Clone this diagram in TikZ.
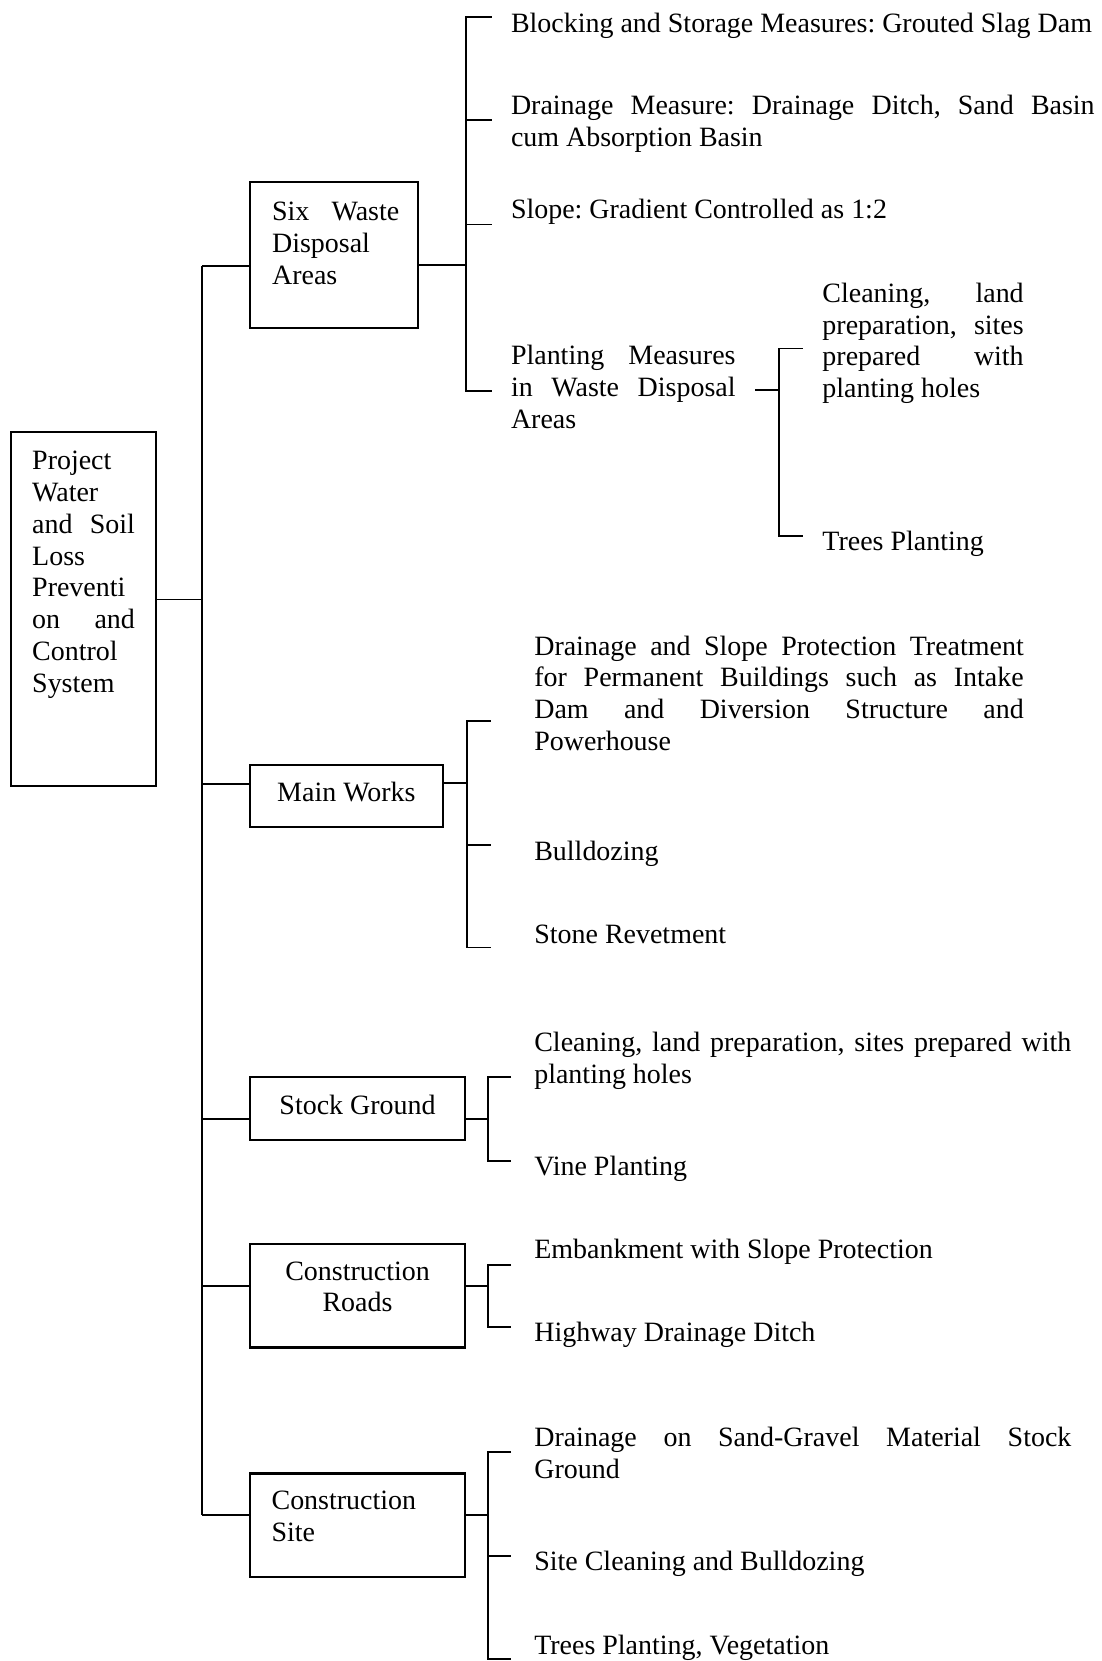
\documentclass[tikz,border=0pt]{standalone}
\usepackage{fontspec}
\setmainfont{Liberation Serif}
\usetikzlibrary{fit}
% one drawing unit = 0.5pt
\newlength\pxu
\setlength\pxu{0.5pt}
% a fully justified line of a given width
\newcommand\jline[2]{\makebox[#1\pxu][s]{#2}}
\frenchspacing

\begin{document}
\begin{tikzpicture}[x=0.5pt,y=-0.5pt,
  box/.style={draw, line width=1pt, inner sep=0pt},
  wire/.style={line width=0.85pt},
  txt/.style={inner sep=0pt, anchor=north west, align=left,
              font=\fontsize{13.2pt}{15pt}\selectfont},
  ctxt/.style={txt, anchor=north, align=center}]
\useasboundingbox (0,0) rectangle (1040,1568);

% ---------- boxes ----------
\node[box, fit={(10,408) (147,742)}]   (root)  {};
\node[box, fit={(236,172) (395,310)}]  (six)   {};
\node[box, fit={(236,722) (418,781)}]  (main)  {};
\node[box, fit={(236,1017) (439,1076)}] (stock) {};
\node[box, fit={(236,1174) (439,1272)}] (roads) {};
\node[box, fit={(236,1391) (439,1489)}] (site)  {};

% ---------- box labels ----------
\node[txt] (rootT) at (30,422) {\strut Project\\Water\\\jline{97}{and Soil}\\Loss\\Preventi\\\jline{97}{on and}\\Control\\System};
\node[txt] (sixT) at (256.5,187) {\strut\jline{120}{Six Waste}\\Disposal\\Areas};
\node[ctxt] (mainT) at (327,735) {\strut Main Works};
\node[ctxt] (stockT) at (337.5,1031) {\strut Stock Ground};
\node[ctxt] (roadsT) at (337.5,1187) {\strut Construction\\Roads};
\node[txt] (siteT) at (256,1404) {\strut Construction\\Site};

% ---------- leaf texts ----------
\node[txt] (blk) at (482,9) {\strut Blocking and Storage Measures: Grouted Slag Dam};
\node[txt] (drn) at (482,87) {\strut\jline{551}{Drainage Measure: Drainage Ditch, Sand Basin}\\cum Absorption Basin};
\node[txt] (slp) at (482,185) {\strut Slope: Gradient Controlled as 1:2};
\node[txt] (plt) at (482,323) {\strut\jline{212}{Planting Measures}\\\jline{212}{in Waste Disposal}\\Areas};
\node[txt] (cln) at (776,264) {\strut\jline{190}{Cleaning, land}\\\jline{190}{preparation, sites}\\\jline{190}{prepared with}\\planting holes};
\node[txt] (trp) at (776,498) {\strut Trees Planting};

\node[txt] (dsp) at (504,597) {\strut\jline{462}{Drainage and Slope Protection Treatment}\\\jline{462}{for Permanent Buildings such as Intake}\\\jline{462}{Dam and Diversion Structure and}\\Powerhouse};
\node[txt] (bul) at (504,791) {\strut Bulldozing};
\node[txt] (stn) at (504,869) {\strut Stone Revetment};

\node[txt] (sgc) at (504,971) {\strut\jline{507}{Cleaning, land preparation, sites prepared with}\\planting holes};
\node[txt] (vin) at (504,1088) {\strut Vine Planting};

\node[txt] (emb) at (504,1167) {\strut Embankment with Slope Protection};
\node[txt] (hwy) at (504,1245) {\strut Highway Drainage Ditch};

\node[txt] (sgm) at (504,1344) {\strut\jline{507}{Drainage on Sand-Gravel Material Stock}\\Ground};
\node[txt] (scb) at (504,1461) {\strut Site Cleaning and Bulldozing};
\node[txt] (tpv) at (504,1540) {\strut Trees Planting, Vegetation};

% ---------- main trunk ----------
\coordinate (j0) at (191,566);
\coordinate (t1) at (191,251);
\coordinate (t2) at (191,740);
\coordinate (t3) at (191,1056);
\coordinate (t4) at (191,1214);
\coordinate (t5) at (191,1430);
\draw[wire] (root.east |- j0) -- (j0);
\draw[wire] (t1) -- (t5);
\draw[wire] (t1) -- (six.west |- t1);
\draw[wire] (t2) -- (main.west |- t2);
\draw[wire] (t3) -- (stock.west |- t3);
\draw[wire] (t4) -- (roads.west |- t4);
\draw[wire] (t5) -- (site.west |- t5);

% ---------- six waste disposal areas ----------
\coordinate (a0) at (440,250);
\coordinate (a1) at (440,15.7);
\coordinate (a2) at (440,113.5);
\coordinate (a3) at (440,212);
\coordinate (a4) at (440,369);
\draw[wire] (six.east |- a0) -- (a0);
\draw[wire] ([xshift=12pt]a1) -- (a1) -- (a4) -- ([xshift=12pt]a4);
\draw[wire] (a2) -- ([xshift=12pt]a2);
\draw[wire] (a3) -- ([xshift=12pt]a3);

% planting measures sub-branch
\coordinate (p0) at (735,368);
\coordinate (p1) at (735,329);
\coordinate (p2) at (735,506);
\draw[wire] ([xshift=9pt]plt.east |- p0) -- (p0);
\draw[wire] ([xshift=11.5pt]p1) -- (p1) -- (p2) -- ([xshift=11.5pt]p2);

% ---------- main works ----------
\coordinate (m0) at (440.5,739.5);
\coordinate (m1) at (440.5,681);
\coordinate (m2) at (440.5,797.5);
\coordinate (m3) at (440.5,894.5);
\draw[wire] (main.east |- m0) -- (m0);
\draw[wire] ([xshift=11.5pt]m1) -- (m1) -- (m3) -- ([xshift=11.5pt]m3);
\draw[wire] (m2) -- ([xshift=11.5pt]m2);

% ---------- stock ground ----------
\coordinate (g0) at (460.5,1056);
\coordinate (g1) at (460.5,1017);
\coordinate (g2) at (460.5,1096);
\draw[wire] (stock.east |- g0) -- (g0);
\draw[wire] ([xshift=11pt]g1) -- (g1) -- (g2) -- ([xshift=11pt]g2);

% ---------- construction roads ----------
\coordinate (r0) at (460.5,1214);
\coordinate (r1) at (460.5,1194);
\coordinate (r2) at (460.5,1253);
\draw[wire] (roads.east |- r0) -- (r0);
\draw[wire] ([xshift=11pt]r1) -- (r1) -- (r2) -- ([xshift=11pt]r2);

% ---------- construction site ----------
\coordinate (c0) at (460.5,1430);
\coordinate (c1) at (460.5,1371);
\coordinate (c2) at (460.5,1469);
\coordinate (c3) at (460.5,1566);
\draw[wire] (site.east |- c0) -- (c0);
\draw[wire] ([xshift=11pt]c1) -- (c1) -- (c3) -- ([xshift=11pt]c3);
\draw[wire] (c2) -- ([xshift=11pt]c2);

\end{tikzpicture}
\end{document}
